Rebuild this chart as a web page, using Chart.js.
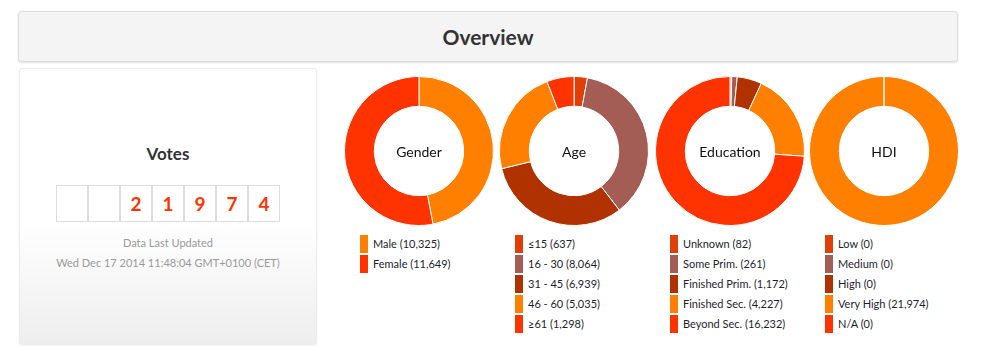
<!DOCTYPE html>
<html>
<head>
<meta charset="utf-8">
<script src="https://cdn.jsdelivr.net/npm/chart.js@4.4.1/dist/chart.umd.min.js"></script>
<style>
  html, body { margin: 0; padding: 0; background: #fff; width: 981px; height: 364px; overflow: hidden; font-family: Lato, "Open Sans", sans-serif; }
  #header { position: absolute; left: 18px; top: 11px; width: 938px; height: 49px; background: #f4f4f4; border: 1px solid #dcdcdc; border-radius: 4px; box-shadow: 0 1px 2px rgba(0,0,0,0.12); text-align: center; }
  #header h1 { margin: 0; font-size: 21px; line-height: 49px; font-weight: 700; color: #333; }
  #votes { position: absolute; left: 19px; top: 68px; width: 296px; height: 275px; border: 1px solid #ececec; border-radius: 3px; background: linear-gradient(to bottom, #ffffff 0%, #ffffff 55%, #eeeeee 100%); box-shadow: 0 1px 2px rgba(0,0,0,0.06); text-align: center; }
  #votes h2 { position: absolute; left: 0; right: 0; top: 74px; margin: 0; font-size: 17px; font-weight: 700; color: #333; }
  #digits { position: absolute; left: 36px; top: 116px; height: 37px; white-space: nowrap; font-size: 0; }
  .d { display: inline-block; width: 30px; height: 35px; border: 1px solid #dddddd; background: #fff; font-size: 19px; font-weight: 700; line-height: 35px; color: #ff3300; text-align: center; vertical-align: top; }
  .info { position: absolute; left: 0; right: 0; font-size: 11px; color: #999; }
  .chartbox { position: absolute; top: 76px; width: 150px; height: 150px; }
  .legend { position: absolute; top: 235px; margin: 0; padding: 0; list-style: none; }
  .legend li { height: 18px; margin-bottom: 2px; white-space: nowrap; font-size: 11px; line-height: 18px; color: #1e1e2e; }
  .legend .sw { display: inline-block; width: 8px; height: 18px; vertical-align: top; margin-right: 5px; }
</style>
</head>
<body>
<div id="header"><h1>Overview</h1></div>
<div id="votes">
  <h2>Votes</h2>
  <div id="digits"></div>
  <div class="info" style="top:167px">Data Last Updated</div>
  <div class="info" style="top:187px">Wed Dec 17 2014 11:48:04 GMT+0100 (CET)</div>
</div>

<div class="chartbox" style="left:344px"><canvas id="c0" width="150" height="150"></canvas></div>
<div class="chartbox" style="left:499px"><canvas id="c1" width="150" height="150"></canvas></div>
<div class="chartbox" style="left:655px"><canvas id="c2" width="150" height="150"></canvas></div>
<div class="chartbox" style="left:809px"><canvas id="c3" width="150" height="150"></canvas></div>
<ul class="legend" id="l0" style="left:360px"></ul>
<ul class="legend" id="l1" style="left:515px"></ul>
<ul class="legend" id="l2" style="left:670px"></ul>
<ul class="legend" id="l3" style="left:825px"></ul>

<script>
// ---- data ----
const totalVotes = 21974;
const voteDigits = 7;

const genderLabels = ["Male", "Female"];
const genderValues = [10325, 11649];

const ageLabels = ["\u226415", "16 - 30", "31 - 45", "46 - 60", "\u226561"];
const ageValues = [637, 8064, 6939, 5035, 1298];

const educationLabels = ["Unknown", "Some Prim.", "Finished Prim.", "Finished Sec.", "Beyond Sec."];
const educationValues = [82, 261, 1172, 4227, 16232];

const hdiLabels = ["Low", "Medium", "High", "Very High", "N/A"];
const hdiValues = [0, 0, 0, 21974, 0];

const chartTitles = ["Gender", "Age", "Education", "HDI"];

// ---- styles ----
const twoColors = ["#ff8000", "#ff3300"];
const fiveColors = ["#e04008", "#a35d55", "#b03200", "#ff8000", "#ff3300"];

// vote counter
(function () {
  const s = String(totalVotes);
  const box = document.getElementById("digits");
  for (let i = 0; i < voteDigits; i++) {
    const d = document.createElement("div");
    d.className = "d";
    const k = i - (voteDigits - s.length);
    d.textContent = k >= 0 ? s[k] : "";
    box.appendChild(d);
  }
})();

const centerText = {
  id: "centerText",
  afterDraw(chart, args, opts) {
    const ctx = chart.ctx;
    const a = chart.chartArea;
    ctx.save();
    ctx.font = "14px Lato, sans-serif";
    ctx.fillStyle = "#111";
    ctx.textAlign = "center";
    ctx.textBaseline = "middle";
    ctx.fillText(opts.text, (a.left + a.right) / 2, (a.top + a.bottom) / 2 + 1);
    ctx.restore();
  }
};

const htmlLegend = {
  id: "htmlLegend",
  afterUpdate(chart, args, opts) {
    const ul = document.getElementById(opts.containerID);
    ul.innerHTML = "";
    const items = chart.options.plugins.legend.labels.generateLabels(chart);
    const vals = chart.data.datasets[0].data;
    items.forEach((item, i) => {
      const li = document.createElement("li");
      const sw = document.createElement("span");
      sw.className = "sw";
      sw.style.background = item.fillStyle;
      li.appendChild(sw);
      li.appendChild(document.createTextNode(item.text + " (" + vals[i].toLocaleString("en-US") + ")"));
      ul.appendChild(li);
    });
  }
};

function makeDonut(idx, labels, values, colors) {
  new Chart(document.getElementById("c" + idx), {
    type: "doughnut",
    data: {
      labels: labels,
      datasets: [{
        data: values,
        backgroundColor: colors,
        borderColor: "#ffffff",
        borderWidth: 1,
        hoverOffset: 0
      }]
    },
    options: {
      responsive: false,
      animation: false,
      cutout: "60%",
      layout: { padding: 0 },
      plugins: {
        legend: { display: false },
        tooltip: { enabled: false },
        centerText: { text: chartTitles[idx] },
        htmlLegend: { containerID: "l" + idx }
      }
    },
    plugins: [centerText, htmlLegend]
  });
}

makeDonut(0, genderLabels, genderValues, twoColors);
makeDonut(1, ageLabels, ageValues, fiveColors);
makeDonut(2, educationLabels, educationValues, fiveColors);
makeDonut(3, hdiLabels, hdiValues, fiveColors);
</script>
</body>
</html>
